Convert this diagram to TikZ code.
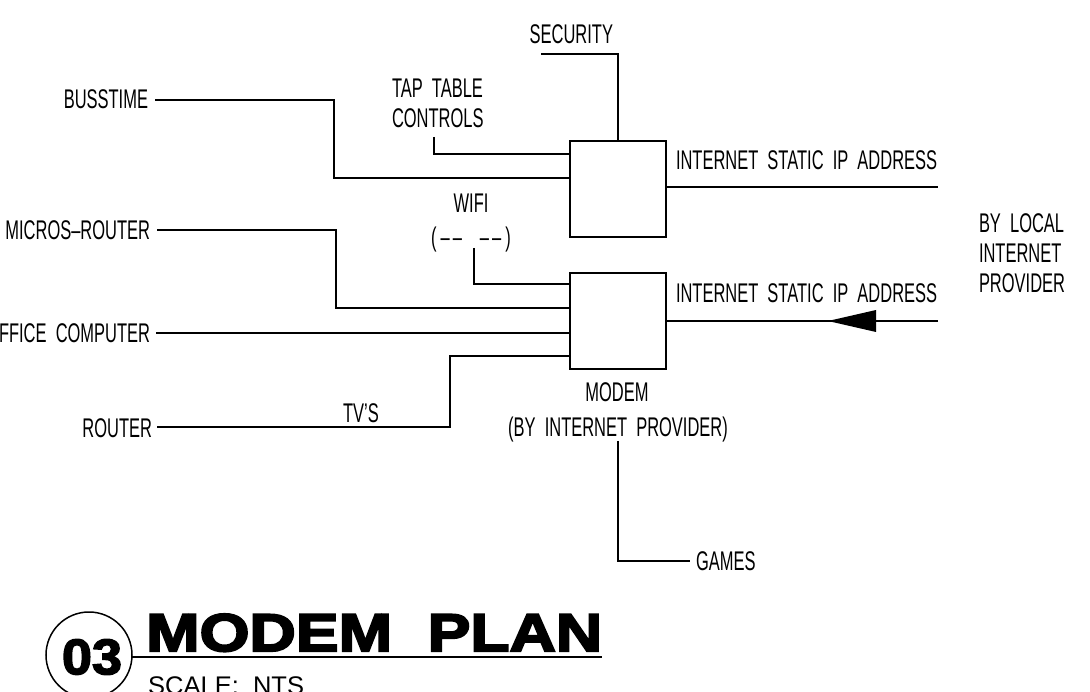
\documentclass[tikz,border=0pt]{standalone}
\usepackage{fontspec}
\newfontfamily\cadfont[FakeStretch=0.61]{Liberation Sans}
\newfontfamily\titlefont[FakeStretch=1.21,BoldFeatures={FakeBold=4}]{Liberation Sans}
\newfontfamily\numfont[FakeStretch=1.08,BoldFeatures={FakeBold=3}]{Liberation Sans}
\newfontfamily\scalefont{Liberation Sans}
\tikzset{
  lbl/.style={font=\cadfont\fontsize{27}{30}\selectfont, inner sep=0pt, outer sep=0pt, text=black},
  wire/.style={draw=black, line width=1.3pt},
  devbox/.style={draw=black, line width=1.5pt, minimum width=96pt, minimum height=96pt, inner sep=0pt, outer sep=0pt}
}
\begin{document}
\begin{tikzpicture}[x=1pt, y=-1pt]
\useasboundingbox (0,0) rectangle (1090,692);
\clip (0,0) rectangle (1090,692);
\fill[white] (0,0) rectangle (1090,692);

% devices
\node[devbox] (box1) at (618,189) {};
\node[devbox] (box2) at (618,321) {};

% labels
\node[lbl, anchor=base east] (security) at (613,44) {SECURITY};
\node[lbl, anchor=base west] (tap1) at (392,98) {TAP\ \ TABLE};
\node[lbl, anchor=base west] (tap2) at (392,128) {CONTROLS};
\node[lbl, anchor=base east] (busstime) at (148,109) {BUSSTIME};
\node[lbl, anchor=base west] (ip1) at (676,170) {INTERNET\ \ STATIC\ \ IP\ \ ADDRESS};
\node[lbl, anchor=base] (wifi) at (471,213) {WIFI};
\node[lbl, anchor=base] (wifisym) at (471,247) {(\kern4pt–\kern3pt–\kern18pt–\kern3pt–\kern4pt)};
\node[lbl, anchor=base east] (micros) at (150,240) {MICROS–ROUTER};
\node[lbl, anchor=base west] (ip2) at (676,303) {INTERNET\ \ STATIC\ \ IP\ \ ADDRESS};
\node[lbl, anchor=base west] (bl1) at (979,233) {BY\ \ LOCAL};
\node[lbl, anchor=base west] (bl2) at (979,263) {INTERNET};
\node[lbl, anchor=base west] (bl3) at (979,293) {PROVIDER};
\node[lbl, anchor=base east] (office) at (150,343) {OFFICE\ \ COMPUTER};
\node[lbl, anchor=base east] (router) at (152,438) {ROUTER};
\node[lbl, anchor=base] (tvs) at (361,423) {TV’S};
\node[lbl, anchor=base] (modem) at (617,402) {MODEM};
\node[lbl, anchor=base] (byip) at (618,436) {(BY\ \ INTERNET\ \ PROVIDER)};
\node[lbl, anchor=base west] (games) at (696,570) {GAMES};

% connector end points
\coordinate (secS) at (541,54);
\coordinate (tapS) at (434,137);
\coordinate (busS) at (155,100);
\coordinate (ip1E) at (938,187);
\coordinate (wifiS) at (474,248);
\coordinate (micS) at (157,230);
\coordinate (offS) at (156,333);
\coordinate (rtS) at (157,427);
\coordinate (ip2E) at (938,321);
\coordinate (gmS) at (618,441);
\coordinate (gmE) at (690,561);

% connectors
\draw[wire] (secS) -| (box1.north);
\draw[wire] (tapS) |- ([yshift=35pt]box1.west);
\draw[wire] (busS) -- ++(179,0) |- ([yshift=11pt]box1.west);
\draw[wire] (box1.east |- ip1E) -- (ip1E);
\draw[wire] (wifiS) |- ([yshift=37pt]box2.west);
\draw[wire] (micS) -- ++(179,0) |- ([yshift=13pt]box2.west);
\draw[wire] (offS) -- (box2.west |- offS);
\draw[wire] (rtS) -- ++(293,0) |- ([yshift=-35pt]box2.west);
\draw[wire] (ip2E) -- (box2.east);
\fill[black] (828,321) -- ++(48,11) -- ++(0,-22) -- cycle;
\draw[wire] (gmS) |- (gmE);

% title block
\node[circle, draw=black, line width=1.5pt, minimum size=86pt, inner sep=0pt, outer sep=0pt] (circ) at (89,655) {};
\node[font=\numfont\bfseries\fontsize{50}{50}\selectfont, inner sep=0pt] (num) at (92,657) {03};
\node[font=\titlefont\bfseries\fontsize{53}{53}\selectfont, anchor=base west, inner sep=0pt] (title) at (146,651) {MODEM\ \ PLAN};
\coordinate (ulE) at (602,657);
\draw[line width=1.6pt] (circ.east |- ulE) -- (ulE);
\node[font=\scalefont\fontsize{25.5}{30}\selectfont, anchor=base west, inner sep=0pt] (scale) at (148,694) {SCALE:\ \ NTS};
\end{tikzpicture}
\end{document}
